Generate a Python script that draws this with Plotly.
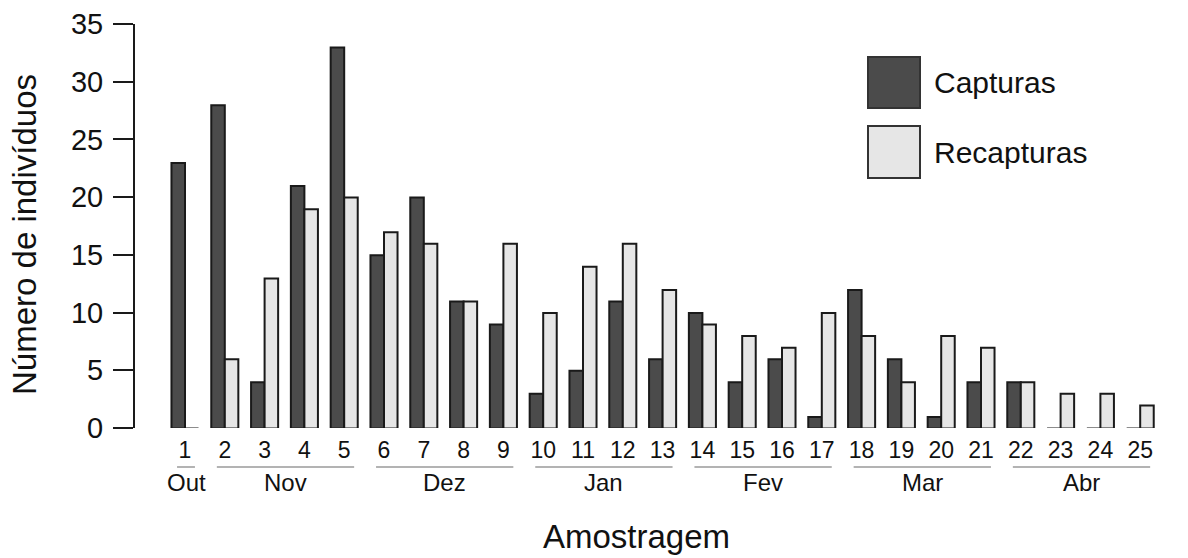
import plotly.graph_objects as go

# ---------------- data ----------------
amostras = list(range(1, 26))
capturas = [23, 28, 4, 21, 33, 15, 20, 11, 9, 3, 5, 11, 6, 10, 4, 6, 1, 12, 6, 1, 4, 4, 0, 0, 0]
recapturas = [0, 6, 13, 19, 20, 17, 16, 11, 16, 10, 14, 16, 12, 9, 8, 7, 10, 8, 4, 8, 7, 4, 3, 3, 2]
meses = ["Out", "Nov", "Dez", "Jan", "Fev", "Mar", "Abr"]
meses_amostras = [[1], [2, 3, 4, 5], [6, 7, 8, 9], [10, 11, 12, 13],
                  [14, 15, 16, 17], [18, 19, 20, 21], [22, 23, 24, 25]]
tick_labels = [str(a) for a in amostras]

# ---------------- style ----------------
W, H = 1188, 558
ML, MR, MT, MB = 135, 0, 24, 130
PW, PH = W - ML - MR, H - MT - MB
FONT = "Liberation Sans, Arial, sans-serif"
DARK = "#4b4b4b"
LIGHT = "#e6e6e6"
EDGE = "#1a1a1a"


def px_x(px):
    return (px - ML) / PW


def px_y(py):
    return (H - MB - py) / PH


fig = go.Figure()
fig.add_trace(go.Bar(x=amostras, y=capturas, name="Capturas", base=-0.04,
                     marker=dict(color=DARK, line=dict(color=EDGE, width=2)),
                     cliponaxis=False, showlegend=False))
fig.add_trace(go.Bar(x=amostras, y=recapturas, name="Recapturas", base=-0.04,
                     marker=dict(color=LIGHT, line=dict(color=EDGE, width=2)),
                     cliponaxis=False, showlegend=False))

shapes = []
annotations = []

# month underlines and labels
for nome, grupo in zip(meses, meses_amostras):
    x0 = grupo[0] - 0.2
    x1 = grupo[-1] + 0.25
    shapes.append(dict(type="line", xref="x", yref="paper", x0=x0, x1=x1,
                       y0=px_y(467), y1=px_y(467),
                       line=dict(color="#9a9a9a", width=1.5)))
    annotations.append(dict(text=nome, xref="x", yref="paper", x=(x0 + x1) / 2,
                            y=px_y(482), xanchor="center", yanchor="middle",
                            showarrow=False, font=dict(size=24, color="#111", family=FONT)))

# legend boxes
for (y0, y1), col, label in [((57, 108), DARK, "Capturas"), ((126, 178), LIGHT, "Recapturas")]:
    shapes.append(dict(type="rect", xref="paper", yref="paper",
                       x0=px_x(868), x1=px_x(920), y0=px_y(y1), y1=px_y(y0),
                       fillcolor=col, line=dict(color="#333", width=2)))
    annotations.append(dict(text=label, xref="paper", yref="paper", x=px_x(932),
                            y=px_y((y0 + y1) / 2), xanchor="left", yanchor="middle",
                            showarrow=False, font=dict(size=30, color="#111", family=FONT)))

# axis titles
annotations.append(dict(text="Amostragem", xref="paper", yref="paper", x=px_x(636),
                        y=px_y(557), xanchor="center", yanchor="bottom", showarrow=False,
                        font=dict(size=33, color="#111", family=FONT)))
annotations.append(dict(text="Número de indivíduos", xref="paper", yref="paper", x=px_x(24),
                        y=px_y(235), xanchor="center", yanchor="middle", textangle=-90,
                        showarrow=False, font=dict(size=33, color="#111", family=FONT)))

fig.update_layout(
    width=W, height=H,
    margin=dict(l=ML, r=MR, t=MT, b=MB, pad=0),
    paper_bgcolor="white", plot_bgcolor="white",
    barmode="group", bargap=0.32, bargroupgap=0,
    font=dict(family=FONT, color="#111"),
    shapes=shapes, annotations=annotations,
    xaxis=dict(range=[1 - 50 / 39.8, 1 - 50 / 39.8 + PW / 39.8],
               tickmode="array", tickvals=amostras, ticktext=tick_labels,
               showline=False, showgrid=False, zeroline=False, ticks="",
               tickfont=dict(size=23, color="#111"), ticklabelstandoff=6),
    yaxis=dict(range=[0, 35], tickvals=[0, 5, 10, 15, 20, 25, 30, 35],
               showline=True, linecolor=EDGE, linewidth=2, mirror=False,
               showgrid=False, zeroline=False,
               ticks="outside", ticklen=20, tickwidth=2, tickcolor=EDGE,
               tickfont=dict(size=29, color="#111"), ticklabelstandoff=4),
)

fig.write_html("out.html")
